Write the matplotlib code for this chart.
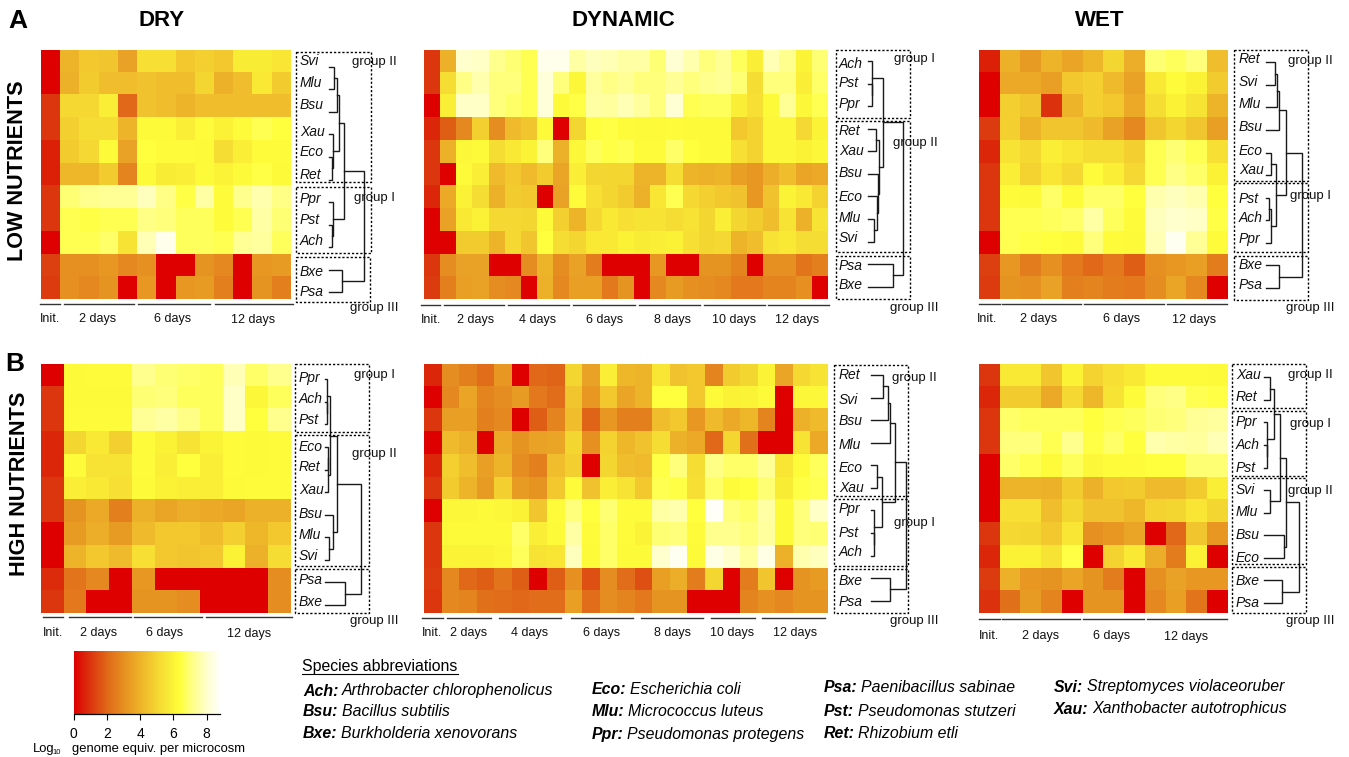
#!/usr/bin/env python3
"""Heatmaps of log10 genome equivalents per species, with dendrograms."""

import matplotlib
matplotlib.use('Agg')
import matplotlib.pyplot as plt
from matplotlib.colors import LinearSegmentedColormap
import numpy as np

plt.rcParams['font.family'] = ['Liberation Sans', 'DejaVu Sans']

W, H = 1349, 757

# Heatmap values, rows top to bottom
dry_low = [
    [0, 4.0, 4.6, 4.5, 3.5, 5.3, 5.3, 4.6, 4.8, 4.6, 5.7, 5.7, 5.5],
    [0, 3.9, 4.7, 4.3, 4.3, 4.4, 4.3, 4.3, 5.0, 3.9, 4.3, 5.6, 4.7],
    [1, 5.1, 5.1, 5.8, 2.0, 4.4, 4.3, 4.0, 4.3, 4.3, 4.3, 4.3, 4.3],
    [1, 4.8, 5.2, 5.2, 4.0, 6.2, 6.2, 5.8, 6.3, 5.9, 6.3, 6.6, 6.4],
    [0.6, 4.7, 5.1, 6.2, 3.5, 6.4, 6.3, 6.3, 6.2, 5.2, 5.8, 6.3, 6.3],
    [0.6, 4.1, 4.1, 4.7, 2.7, 6.2, 5.7, 5.8, 6.2, 6.0, 6.2, 6.5, 6.2],
    [1, 6.9, 7.2, 7.3, 7.3, 7.8, 7.1, 6.5, 7.5, 6.3, 7.2, 7.6, 7.1],
    [1, 6.6, 6.5, 6.6, 6.6, 7.1, 7.0, 6.7, 6.7, 6.3, 6.6, 7.5, 6.9],
    [0, 6.6, 6.6, 6.8, 5.4, 7.7, 8.5, 6.7, 6.7, 6.6, 7.3, 7.4, 6.7],
    [1.2, 3.0, 3.0, 3.2, 2.8, 3.0, 0, 0, 3.1, 2.8, 0, 3.2, 3.3],
    [1.1, 3.0, 2.8, 3.1, 0, 3.2, 0, 3.2, 3.3, 2.6, 0, 3.1, 2.6],
]
dyn_low = [
    [1, 3.9, 8.0, 7.9, 7.2, 6.9, 6.6, 8.5, 8.5, 7.5, 7.8, 7.7, 7.5, 7.5, 6.9, 8.1, 7.6, 7.0, 7.3, 6.7, 5.8, 7.7, 7.2, 6.0, 6.9],
    [1, 5.2, 7.1, 7.6, 7.0, 7.0, 6.6, 8.2, 7.0, 6.1, 7.4, 7.1, 7.3, 7.0, 7.0, 7.3, 7.0, 7.2, 7.3, 6.9, 5.2, 7.0, 7.0, 5.8, 6.8],
    [0, 5.8, 7.9, 7.9, 7.0, 6.8, 6.6, 8.2, 6.2, 6.5, 7.5, 7.4, 7.7, 7.4, 7.0, 8.1, 6.6, 6.7, 6.7, 5.8, 5.3, 6.2, 7.3, 6.1, 6.6],
    [0.7, 1.8, 2.8, 4.8, 2.9, 4.2, 4.5, 6.2, 0, 5.0, 6.4, 6.5, 6.3, 6.2, 6.2, 6.3, 6.2, 6.2, 6.2, 4.6, 4.9, 6.1, 6.1, 5.1, 6.0],
    [1, 3.9, 6.1, 6.2, 5.2, 5.6, 6.0, 7.0, 3.9, 6.1, 6.7, 6.5, 6.6, 6.3, 6.3, 6.8, 6.4, 6.2, 6.2, 5.3, 4.9, 6.1, 6.1, 5.9, 6.1],
    [1, 0, 6.2, 5.8, 4.2, 4.6, 4.2, 4.7, 3.6, 5.8, 5.0, 5.0, 5.0, 4.0, 4.0, 5.2, 4.0, 3.9, 4.0, 3.4, 3.2, 3.8, 4.3, 3.6, 3.7],
    [0.7, 3.7, 5.9, 5.2, 3.9, 4.7, 4.6, 0, 3.5, 6.3, 5.3, 5.0, 4.7, 3.9, 5.5, 6.6, 5.1, 4.8, 4.6, 4.4, 3.2, 4.4, 6.0, 5.6, 4.9],
    [0, 3.5, 5.6, 5.9, 5.1, 5.1, 5.0, 6.2, 4.8, 4.0, 5.1, 5.6, 5.3, 5.4, 5.4, 5.2, 5.4, 5.0, 5.8, 5.0, 4.7, 4.3, 5.4, 3.9, 5.4],
    [0, 0, 4.7, 4.7, 4.0, 5.1, 4.5, 6.4, 5.2, 5.0, 5.6, 5.6, 5.9, 5.7, 5.8, 5.9, 5.3, 5.0, 5.1, 4.0, 4.3, 5.4, 5.6, 5.2, 5.2],
    [1, 2.9, 3.5, 3.5, 0, 0, 2.9, 4.0, 2.9, 3.5, 2.5, 0, 0, 0, 3.2, 0, 0, 3.1, 3.1, 2.7, 0, 3.0, 3.0, 2.3, 2.6],
    [1.1, 2.6, 3.4, 3.5, 2.9, 2.8, 0, 3.9, 2.8, 3.4, 3.4, 2.4, 3.1, 0, 2.8, 3.3, 3.0, 2.9, 2.8, 2.4, 2.4, 2.7, 2.7, 3.0, 0],
]
wet_low = [
    [0.6, 3.9, 3.3, 4.0, 3.6, 4.1, 5.0, 3.8, 6.9, 6.7, 7.0, 4.3],
    [0, 3.7, 3.7, 3.4, 4.6, 4.8, 4.2, 3.5, 5.6, 6.3, 5.9, 4.7],
    [0, 4.8, 4.5, 0.9, 4.0, 4.8, 4.6, 3.7, 5.2, 5.9, 5.4, 4.0],
    [1.1, 4.8, 4.0, 4.5, 4.5, 4.2, 3.5, 2.8, 4.5, 5.0, 4.5, 3.4],
    [0.7, 5.4, 5.1, 5.8, 5.5, 5.2, 5.2, 4.8, 6.6, 6.9, 6.6, 5.3],
    [1, 5.8, 4.9, 5.5, 5.1, 6.3, 5.8, 5.1, 6.6, 7.1, 6.8, 5.9],
    [1, 6.3, 6.2, 6.8, 6.3, 6.8, 6.8, 6.4, 7.6, 7.8, 7.6, 6.4],
    [1, 6.6, 6.6, 6.7, 6.8, 7.5, 6.7, 6.3, 7.8, 8.0, 7.9, 6.5],
    [0, 6.6, 6.5, 6.4, 6.3, 7.0, 6.3, 6.2, 7.7, 8.6, 7.3, 6.3],
    [1.2, 3.2, 2.5, 3.0, 2.4, 2.0, 2.4, 1.8, 3.0, 3.2, 3.4, 2.5],
    [1.1, 3.1, 3.0, 3.5, 2.6, 2.7, 2.5, 2.4, 2.9, 3.6, 2.8, 0],
]
dry_high = [
    [0, 6.2, 6.3, 6.3, 7.2, 6.9, 6.8, 6.7, 7.7, 6.8, 7.2],
    [1, 6.2, 6.2, 6.2, 6.9, 7.0, 6.7, 6.7, 7.9, 6.1, 6.7],
    [1, 6.3, 6.3, 6.3, 7.3, 7.5, 7.1, 6.7, 7.9, 6.4, 7.2],
    [0.7, 5.0, 5.6, 4.8, 6.3, 5.9, 5.4, 6.0, 6.3, 6.2, 6.3],
    [0.7, 6.3, 5.4, 5.4, 6.3, 5.8, 6.4, 5.8, 6.3, 6.2, 6.3],
    [1, 5.8, 5.6, 5.3, 6.2, 5.9, 5.8, 5.8, 6.2, 6.3, 6.3],
    [1, 3.1, 3.7, 2.6, 3.9, 3.6, 3.8, 3.7, 3.6, 3.9, 3.9],
    [0, 3.3, 3.8, 3.3, 4.2, 4.6, 4.6, 4.3, 4.8, 4.1, 4.6],
    [0, 4.0, 4.6, 4.2, 5.3, 4.6, 4.5, 4.6, 5.9, 3.9, 5.2],
    [0.8, 2.3, 2.8, 0, 3.2, 0, 0, 0, 0, 0, 2.9],
    [1, 2.4, 0, 0, 3.1, 3.1, 2.9, 0, 0, 0, 2.9],
]
dyn_high = [
    [0.7, 2.9, 2.6, 2.1, 3.2, 0, 2.0, 1.9, 5.0, 3.5, 5.8, 4.1, 4.0, 5.5, 4.4, 4.6, 2.7, 4.7, 5.0, 6.0, 3.6, 5.1, 5.4],
    [0, 2.8, 3.6, 2.7, 2.9, 3.3, 2.4, 2.1, 4.5, 3.2, 4.6, 3.6, 4.0, 6.4, 6.4, 4.6, 6.2, 5.9, 6.0, 6.2, 0, 6.1, 6.1],
    [1, 3.4, 3.4, 2.6, 2.8, 0, 1.8, 2.7, 4.3, 1.9, 3.2, 2.6, 2.6, 4.3, 4.6, 3.2, 4.2, 3.7, 4.1, 2.7, 0, 3.9, 4.2],
    [0, 4.2, 3.9, 0, 3.7, 3.1, 3.5, 3.6, 5.0, 3.0, 4.9, 4.1, 4.4, 5.2, 3.9, 3.7, 2.0, 5.0, 2.2, 0, 0, 5.4, 3.7],
    [0.7, 4.8, 4.3, 3.4, 4.0, 2.9, 2.6, 4.3, 4.8, 0, 5.0, 4.3, 4.2, 6.5, 7.0, 5.2, 7.1, 6.8, 6.8, 7.3, 5.5, 6.3, 6.7],
    [1, 4.7, 4.0, 3.3, 4.8, 3.3, 3.1, 4.6, 6.3, 4.4, 5.8, 5.4, 4.6, 6.6, 6.5, 5.3, 6.8, 6.3, 6.4, 6.9, 5.7, 6.5, 6.6],
    [0, 6.1, 6.1, 6.2, 6.1, 5.9, 4.5, 6.3, 7.0, 6.4, 6.9, 6.3, 6.3, 7.5, 7.6, 6.4, 8.7, 7.0, 6.8, 7.5, 6.2, 7.0, 7.9],
    [1, 6.2, 6.2, 6.2, 6.2, 6.8, 5.8, 6.2, 7.5, 6.3, 6.8, 6.3, 6.0, 6.9, 7.0, 6.3, 7.2, 7.2, 7.0, 7.4, 6.2, 7.0, 6.9],
    [1, 6.0, 6.0, 6.0, 6.1, 6.7, 5.4, 5.5, 7.8, 6.2, 6.8, 6.2, 6.2, 8.0, 8.6, 6.2, 8.4, 8.0, 7.4, 8.4, 3.9, 7.6, 7.8],
    [1.1, 2.8, 2.0, 1.8, 2.3, 1.8, 0, 1.8, 3.0, 1.5, 2.9, 2.1, 1.5, 3.4, 3.8, 2.5, 5.0, 0, 2.5, 4.5, 0, 3.1, 3.3],
    [1, 2.8, 2.7, 2.2, 2.1, 2.0, 2.1, 2.1, 3.4, 2.1, 2.9, 2.7, 2.4, 3.1, 3.1, 0, 0, 0, 2.7, 3.0, 2.8, 3.1, 3.1],
]
wet_high = [
    [1, 5.6, 5.6, 4.5, 5.9, 4.9, 5.3, 5.6, 6.3, 6.3, 6.3, 6.2],
    [0.7, 4.7, 4.7, 3.7, 5.1, 4.1, 5.4, 6.3, 7.0, 7.1, 6.6, 6.5],
    [1, 6.8, 6.7, 6.7, 6.7, 6.4, 6.6, 6.7, 6.9, 7.0, 7.3, 7.4],
    [1, 7.0, 7.0, 6.6, 7.2, 6.5, 6.8, 6.4, 7.6, 7.5, 7.4, 7.7],
    [0, 6.8, 6.6, 6.3, 6.7, 6.1, 6.3, 6.3, 6.4, 6.4, 6.9, 6.9],
    [0, 4.0, 4.0, 3.9, 4.7, 3.9, 4.6, 4.7, 4.2, 4.2, 4.7, 5.8],
    [0, 5.3, 5.3, 4.3, 5.0, 4.4, 4.4, 4.1, 4.9, 5.0, 5.5, 5.0],
    [1, 5.1, 5.0, 4.6, 5.5, 3.0, 3.2, 3.6, 0, 2.0, 4.5, 3.2],
    [0.7, 5.9, 5.9, 5.4, 6.5, 0, 4.9, 5.6, 3.8, 2.5, 5.9, 0],
    [1.1, 3.9, 3.2, 3.1, 3.6, 3.1, 2.5, 0, 3.0, 3.5, 3.2, 3.2],
    [0.9, 2.2, 3.3, 2.7, 0, 3.1, 3.1, 0, 2.8, 3.4, 2.3, 0],
]

# Species order per panel and label y positions
order_dry_low = ['Svi', 'Mlu', 'Bsu', 'Xau', 'Eco', 'Ret', 'Ppr', 'Pst', 'Ach', 'Bxe', 'Psa']
order_dyn_low = ['Ach', 'Pst', 'Ppr', 'Ret', 'Xau', 'Bsu', 'Eco', 'Mlu', 'Svi', 'Psa', 'Bxe']
order_wet_low = ['Ret', 'Svi', 'Mlu', 'Bsu', 'Eco', 'Xau', 'Pst', 'Ach', 'Ppr', 'Bxe', 'Psa']
order_dry_high = ['Ppr', 'Ach', 'Pst', 'Eco', 'Ret', 'Xau', 'Bsu', 'Mlu', 'Svi', 'Psa', 'Bxe']
order_dyn_high = ['Ret', 'Svi', 'Bsu', 'Mlu', 'Eco', 'Xau', 'Ppr', 'Pst', 'Ach', 'Bxe', 'Psa']
order_wet_high = ['Xau', 'Ret', 'Ppr', 'Ach', 'Pst', 'Svi', 'Mlu', 'Bsu', 'Eco', 'Bxe', 'Psa']

labely_dry_low = [61, 83, 105, 132, 152, 175, 199, 220, 241, 272, 292]
labely_dyn_low = [64, 83, 104, 131, 151, 173, 197, 218, 238, 266, 285]
labely_wet_low = [59, 82, 104, 127, 151, 170, 199, 218, 239, 265, 285]
labely_dry_high = [378, 399, 420, 447, 467, 490, 514, 535, 556, 580, 602]
labely_dyn_high = [375, 400, 421, 445, 468, 488, 509, 533, 552, 581, 602]
labely_wet_high = [375, 397, 422, 445, 468, 490, 512, 535, 558, 581, 603]

# Dendrograms: (merge height, child, child), heights in px from the leaf start
tree_dry_low = (35, (14.5, (10, (8, (4.7, 'Svi', 'Mlu'), 'Bsu'), (3.5, 'Xau', (3, 'Eco', 'Ret'))),
                     (3.5, 'Ppr', (3, 'Pst', 'Ach'))), (13, 'Bxe', 'Psa'))
tree_dyn_low = (35, (14.7, (4, 'Ach', (3.5, 'Pst', 'Ppr')),
                     (11.4, (7.9, 'Ret', 'Xau'), (10, 'Bsu', (9, 'Eco', (5.5, 'Mlu', 'Svi'))))),
                (24.5, 'Psa', 'Bxe'))
tree_wet_low = (35.7, (20, (13.3, (11.3, (9.3, 'Ret', 'Svi'), 'Mlu'), 'Bsu'),
                       (10, (4.7, 'Eco', 'Xau'), (4.7, (3.3, 'Pst', 'Ach'), 'Ppr'))),
                (12.7, 'Bxe', 'Psa'))
tree_dry_high = (35.7, (12.3, (5, (2, 'Ppr', (1.5, 'Ach', 'Pst')), (3, (3, 'Eco', 'Ret'), 'Xau')),
                        (8.3, 'Bsu', (4.3, 'Mlu', 'Svi'))), (20, 'Psa', 'Bxe'))
tree_dyn_high = (34.6, (24.2, (18.7, (16.6, (11.8, 'Ret', 'Svi'), 'Bsu'), 'Mlu'),
                        (11.1, (6.2, 'Eco', 'Xau'), (3.4, 'Ppr', (3.1, 'Pst', 'Ach')))),
                 (18.7, 'Bxe', 'Psa'))
tree_wet_high = (34.7, (21.7, (15.7, (9.3, (5.7, 'Xau', 'Ret'), (3, 'Ppr', (2.5, 'Ach', 'Pst'))),
                               (5.7, 'Svi', 'Mlu')), (20, 'Bsu', 'Eco')), (17.7, 'Bxe', 'Psa'))

# Legend text
abbrev_col1 = ['Ach', 'Bsu', 'Bxe']
names_col1 = ['Arthrobacter chlorophenolicus', 'Bacillus subtilis', 'Burkholderia xenovorans']
abbrev_col2 = ['Eco', 'Mlu', 'Ppr']
names_col2 = ['Escherichia coli', 'Micrococcus luteus', 'Pseudomonas protegens']
abbrev_col3 = ['Psa', 'Pst', 'Ret']
names_col3 = ['Paenibacillus sabinae', 'Pseudomonas stutzeri', 'Rhizobium etli']
abbrev_col4 = ['Svi', 'Xau']
names_col4 = ['Streptomyces violaceoruber', 'Xanthobacter autotrophicus']

cbar_ticks = [0, 2, 4, 6, 8]
VMAX = 8.83

# Colour scale stops, red through yellow to white
stops = [0, 1, 2, 3, 4, 5, 6, 6.4, 7, 8, VMAX]
stop_colors = [(222, 0, 0), (220, 55, 15), (225, 105, 25), (230, 145, 33), (238, 180, 42),
               (245, 215, 50), (252, 245, 55), (255, 255, 60), (255, 255, 125), (255, 255, 205),
               (255, 255, 255)]
cmap = LinearSegmentedColormap.from_list(
    'redyellow', [(s / VMAX, tuple(c / 255 for c in col)) for s, col in zip(stops, stop_colors)], N=512)

fig = plt.figure(figsize=(W / 100, H / 100), dpi=100)


def px_axes(x0, y0, x1, y1):
    return fig.add_axes([x0 / W, 1 - y1 / H, (x1 - x0) / W, (y1 - y0) / H])


# Overlay in pixel coordinates for annotations
ov = fig.add_axes([0, 0, 1, 1], zorder=5)
ov.set_xlim(0, W)
ov.set_ylim(H, 0)
ov.axis('off')
ov.patch.set_alpha(0)


def draw_tree(node, leaf_y, x0):
    if isinstance(node, str):
        return x0, leaf_y[node]
    h, a, b = node
    xa, ya = draw_tree(a, leaf_y, x0)
    xb, yb = draw_tree(b, leaf_y, x0)
    x = x0 + h
    ov.plot([xa, x, x, xb], [ya, ya, yb, yb], color='#1a1a1a', lw=1.0, solid_joinstyle='miter')
    return x, (ya + yb) / 2


def draw_panel(data, box, order, labely, label_x, tree, leaf_x, leaf_y0, segs, seg_y, times, groups):
    x0, y0, x1, y1 = box
    ax = px_axes(x0, y0, x1, y1)
    ax.imshow(np.array(data), cmap=cmap, vmin=0, vmax=VMAX, aspect='auto', interpolation='nearest')
    ax.axis('off')

    for name, y in zip(order, labely):
        ov.text(label_x, y, name, style='italic', fontsize=10, ha='left', va='center', color='#111111')

    leaf_y = {name: leaf_y0 + i * 22.57 for i, name in enumerate(order)}
    draw_tree(tree, leaf_y, leaf_x)

    for a, b in segs:
        ov.plot([a, b], [seg_y, seg_y], color='#333333', lw=1.0)
    for text, x, y in times:
        ov.text(x, y, text, fontsize=9, ha='center', va='center', color='#111111')

    for bx0, bx1, by0, by1, text, tx, ty in groups:
        ov.plot([bx0, bx1, bx1, bx0, bx0], [by0, by0, by1, by1, by0], color='black', lw=1.0,
                linestyle=(0, (1.6, 1.4)))
        ov.text(tx, ty, text, fontsize=9.5, ha='center', va='center', color='#111111')


draw_panel(dry_low, (41, 50, 291, 299), order_dry_low, labely_dry_low, 300, tree_dry_low, 329, 66.7,
           [(40, 60), (64, 134), (138, 210), (215, 293)], 304,
           [('Init.', 50, 319), ('2 days', 98, 319), ('6 days', 173, 319), ('12 days', 253, 320.5)],
           [(296, 370.5, 51.7, 182.3, 'group II', 374, 62),
            (296, 370.5, 186.7, 253, 'group I', 374, 198),
            (296, 369.5, 257, 301.7, 'group III', 374, 308)])

draw_panel(dyn_low, (424, 50, 828, 299), order_dyn_low, labely_dyn_low, 839, tree_dyn_low, 868, 61,
           [(421, 440), (444, 504), (508, 569), (573, 635), (639, 700), (704, 765), (768, 829)], 305,
           [('Init.', 431, 320), ('2 days', 476, 320), ('4 days', 538, 320), ('6 days', 605, 320),
            ('8 days', 672, 320), ('10 days', 734, 320), ('12 days', 797, 320)],
           [(836, 910, 50, 118, 'group I', 914, 59),
            (836, 910, 121, 252, 'group II', 915, 143),
            (836, 910, 256, 299, 'group III', 914, 308)])

draw_panel(wet_low, (979, 50, 1228, 299), order_wet_low, labely_wet_low, 1239, tree_wet_low, 1266, 62.3,
           [(979, 999.5), (1002, 1080.5), (1083.5, 1164), (1167, 1227)], 304,
           [('Init.', 987, 319), ('2 days', 1039, 319), ('6 days', 1122, 319), ('12 days', 1194, 320.5)],
           [(1234, 1308, 50, 181, 'group II', 1310, 61),
            (1234, 1308, 183, 251.7, 'group I', 1310, 196),
            (1234, 1308, 256, 300, 'group III', 1310, 308)])

draw_panel(dry_high, (41, 364, 291, 613), order_dry_high, labely_dry_high, 299, tree_dry_high, 325, 379.3,
           [(42.7, 63.3), (68.7, 131), (134.3, 201.7), (206, 291.7)], 616.7,
           [('Init.', 52.7, 632.7), ('2 days', 98.3, 632.7), ('6 days', 164.3, 632.7), ('12 days', 249.3, 633.7)],
           [(295.3, 369.3, 363.7, 431.7, 'group I', 374, 375),
            (295.3, 369.3, 434.7, 566, 'group II', 374, 454),
            (295.3, 369.3, 568.7, 613.3, 'group III', 374, 621)])

draw_panel(dyn_high, (424, 364, 828, 613), order_dyn_high, labely_dyn_high, 839, tree_dyn_high, 871, 375,
           [(422, 443), (447, 491), (499, 561), (571, 633), (641, 703), (711, 755), (762, 825)], 617.7,
           [('Init.', 432, 632.7), ('2 days', 469, 632.7), ('4 days', 530, 632.7), ('6 days', 602, 632.7),
            ('8 days', 672, 632.7), ('10 days', 732, 632.7), ('12 days', 795, 632.7)],
           [(834, 908, 365, 495.7, 'group II', 914, 377.7),
            (834, 908, 499, 566, 'group I', 914, 522.7),
            (834, 908, 568.7, 613.3, 'group III', 914, 621)])

draw_panel(wet_high, (979, 364, 1228, 613), order_wet_high, labely_wet_high, 1236, tree_wet_high, 1264.3, 377.3,
           [(979, 999.5), (1001.5, 1080), (1083, 1144), (1147, 1227)], 619.3,
           [('Init.', 989, 635.7), ('2 days', 1041, 635.7), ('6 days', 1112, 635.7), ('12 days', 1186, 636.7)],
           [(1231.7, 1305.7, 363.7, 408, 'group II', 1310, 375),
            (1231.7, 1305.7, 411, 475.5, 'group I', 1310, 424),
            (1231.7, 1305.7, 477.5, 564, 'group II', 1310, 491),
            (1231.7, 1305.7, 566.7, 612.7, 'group III', 1310, 621)])

# Titles and row headers
for text, x in [('DRY', 162), ('DYNAMIC', 623), ('WET', 1100)]:
    ov.text(x, 20, text, fontsize=16, fontweight='bold', ha='center', va='center')
ov.text(18, 21, 'A', fontsize=19, fontweight='bold', ha='center', va='center')
ov.text(15, 364, 'B', fontsize=19, fontweight='bold', ha='center', va='center')
ov.text(18, 171, 'LOW NUTRIENTS', fontsize=15.6, fontweight='bold', rotation=90, ha='center', va='center')
ov.text(20, 484, 'HIGH NUTRIENTS', fontsize=15.6, fontweight='bold', rotation=90, ha='center', va='center')

# Colour bar
cax = px_axes(73.5, 651, 220.3, 714)
cax.imshow(np.linspace(0, VMAX, 300)[None, :], cmap=cmap, vmin=0, vmax=VMAX, aspect='auto',
           extent=[0, VMAX, 0, 1], interpolation='bilinear')
cax.set_yticks([])
cax.set_xticks(cbar_ticks)
cax.tick_params(axis='x', length=4.5, width=0.8, labelsize=10, pad=5)
for side in ['top', 'left', 'right']:
    cax.spines[side].set_visible(False)
cax.spines['bottom'].set_linewidth(0.9)
ov.text(33, 749, 'Log', fontsize=9.4, ha='left', va='center')
ov.text(52, 753, '10', fontsize=5.5, ha='left', va='center')
ov.text(71.5, 749, 'genome equiv. per microcosm', fontsize=9.4, ha='left', va='center')

# Species legend
ov.text(302, 666, 'Species abbreviations', fontsize=11.4, ha='left', va='center')
ov.plot([302, 458], [674, 674], color='black', lw=0.8)

fig.canvas.draw()
renderer = fig.canvas.get_renderer()


def legend_column(abbrevs, names, x, ys):
    for ab, name, y in zip(abbrevs, names, ys):
        t = ov.text(x, y, ab + ':', fontsize=11.4, fontweight='bold', style='italic', ha='left', va='center')
        bb = t.get_window_extent(renderer)
        ov.text(bb.x1 + 3.5, y, name, fontsize=11.4, style='italic', ha='left', va='center')


legend_column(abbrev_col1, names_col1, 303, [691, 712, 734])
legend_column(abbrev_col2, names_col2, 592, [690, 712, 734])
legend_column(abbrev_col3, names_col3, 824, [688, 712, 733])
legend_column(abbrev_col4, names_col4, 1054, [687, 709])

plt.savefig('out.png', dpi=100)
